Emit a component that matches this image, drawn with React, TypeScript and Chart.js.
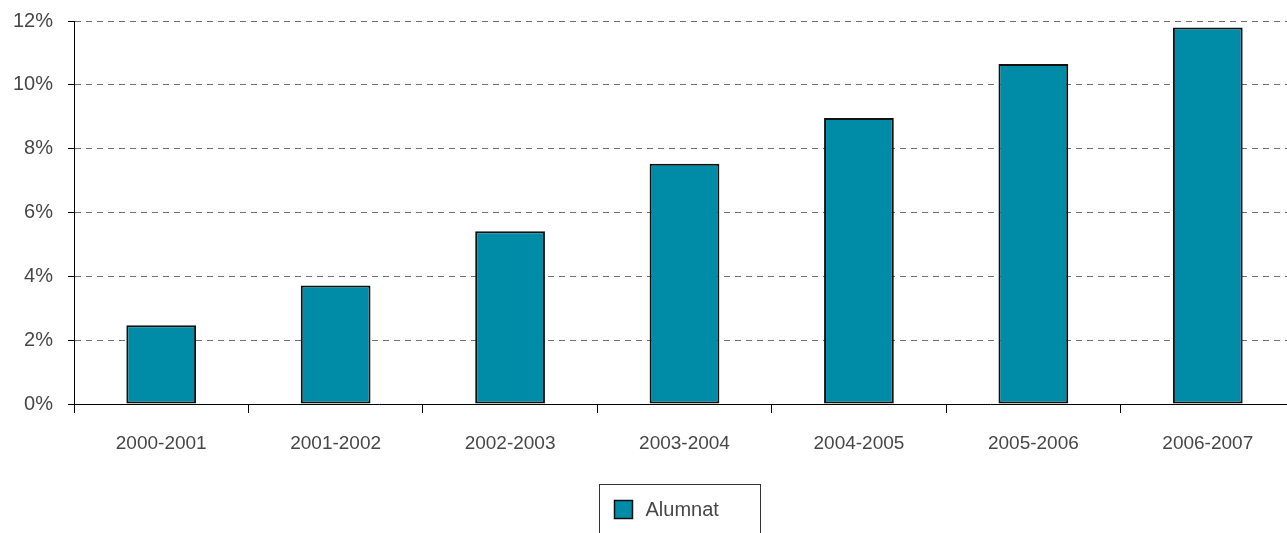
import React, { useEffect, useRef } from "react";
import { Chart, registerables } from "chart.js";

Chart.register(...registerables);

const categories: string[] = [
  "2000-2001",
  "2001-2002",
  "2002-2003",
  "2003-2004",
  "2004-2005",
  "2005-2006",
  "2006-2007",
];
const seriesLabel = "Alumnat";
const alumnatValues: number[] = [2.47, 3.71, 5.41, 7.53, 8.96, 10.65, 11.8];
const yMin = 0;
const yMax = 12;
const yStep = 2;

const BAR_COLOR = "#008BA7";
const TEXT_COLOR = "#474747";
const FONT_FAMILY = "'Liberation Sans', Arial, Helvetica, sans-serif";
const FONT_SIZE = 19;
const Y_FONT_SIZE = 20;

export default function App() {
  const ref = useRef<HTMLCanvasElement>(null);

  useEffect(() => {
    if (!ref.current) return;

    const legendBox = {
      id: "legendBox",
      afterDraw(chart: any) {
        const { ctx, chartArea } = chart;
        const ds = chart.data.datasets[0];
        const boxW = 161;
        const boxH = 60;
        const cx = (chartArea.left + chartArea.right) / 2 - 5;
        const left = Math.round(cx - boxW / 2) + 0.5;
        const top = Math.round(chartArea.bottom + 80) + 0.5;
        ctx.save();
        ctx.strokeStyle = "#333";
        ctx.lineWidth = 1;
        ctx.strokeRect(left, top, boxW, boxH);
        const sx = left + 15;
        const sy = top + 16;
        ctx.fillStyle = ds.backgroundColor;
        ctx.fillRect(sx, sy, 18, 18);
        ctx.strokeStyle = "#111";
        ctx.lineWidth = 1.5;
        ctx.strokeRect(sx, sy, 18, 18);
        ctx.fillStyle = TEXT_COLOR;
        ctx.font = `${Y_FONT_SIZE}px ${FONT_FAMILY}`;
        ctx.textBaseline = "middle";
        ctx.textAlign = "left";
        ctx.fillText(ds.label, sx + 31, sy + 10);
        ctx.restore();
      },
    };

    const chart = new Chart(ref.current, {
      type: "bar",
      data: {
        labels: categories,
        datasets: [
          {
            label: seriesLabel,
            data: alumnatValues,
            backgroundColor: BAR_COLOR,
            borderColor: "#111111",
            borderWidth: 2,
            borderSkipped: false,
            barPercentage: 0.4,
            categoryPercentage: 1,
          },
        ],
      },
      options: {
        responsive: false,
        animation: false,
        layout: { padding: { top: 21, right: 5, bottom: 69, left: 0 } },
        plugins: {
          legend: { display: false },
          tooltip: { enabled: false },
        },
        scales: {
          x: {
            grid: {
              display: true,
              drawOnChartArea: false,
              tickLength: 9,
              color: "#000",
              offset: true,
            },
            border: { color: "#000", width: 1 },
            ticks: {
              color: TEXT_COLOR,
              font: { family: FONT_FAMILY, size: FONT_SIZE },
              padding: 19,
              maxRotation: 0,
              autoSkip: false,
            },
            afterFit: (s: any) => {
              s.height = 60;
              s.paddingLeft = 0;
              s.paddingRight = 0;
            },
          },
          y: {
            min: yMin,
            max: yMax,
            ticks: {
              stepSize: yStep,
              callback: (v: any) => `${v}%`,
              color: TEXT_COLOR,
              font: { family: FONT_FAMILY, size: Y_FONT_SIZE },
              padding: 15,
            },
            grid: {
              color: (c: any) =>
                c.tick && c.tick.value === 0 ? "rgba(0,0,0,0)" : "#707070",
              tickColor: "#000",
              tickLength: 6,
              tickBorderDash: [],
              lineWidth: 1,
            },
            border: { color: "#000", width: 1, dash: [6, 5] },
            afterFit: (s: any) => {
              s.width = 74;
              s.paddingTop = 0;
              s.paddingBottom = 0;
            },
          },
        },
      },
      plugins: [legendBox],
    });

    return () => chart.destroy();
  }, []);

  return (
    <div
      style={{
        position: "fixed",
        left: 0,
        top: 0,
        width: 1287,
        height: 533,
        overflow: "hidden",
        background: "#fff",
      }}
    >
      <canvas ref={ref} width={1300} height={533} style={{ display: "block" }} />
    </div>
  );
}
